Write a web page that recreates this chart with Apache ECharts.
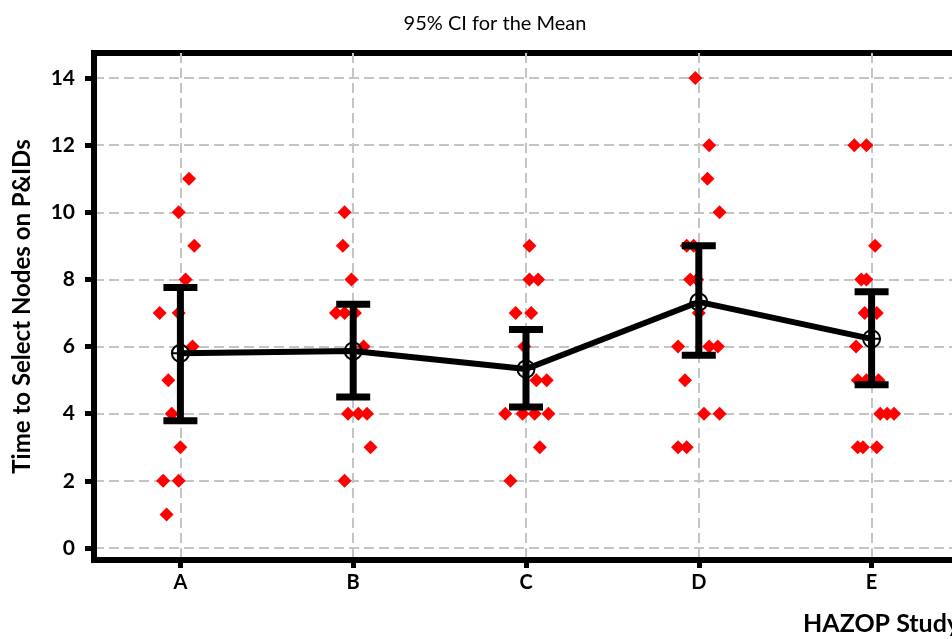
<!DOCTYPE html>
<html>
<head>
<meta charset="utf-8">
<script src="https://cdn.jsdelivr.net/npm/echarts@6/dist/echarts.min.js"></script>
<style>
  html, body { margin: 0; padding: 0; background: #fff; }
  #chart { width: 952px; height: 639px; }
</style>
</head>
<body>
<div id="chart"></div>
<script>
// 分组（HAZOP Study）
const categories = ['A', 'B', 'C', 'D', 'E']
const yTicks = [0, 2, 4, 6, 8, 10, 12, 14]

// 每组的原始观测值，以及从图中读出的水平抖动（单位：类别宽度）
const valuesA = [11, 10, 9, 8, 7, 7, 6, 5, 4, 3, 2, 2, 1]
const jitterA = [0.05, -0.01, 0.08, 0.03, -0.12, -0.01, 0.07, -0.07, -0.05, 0, -0.10, -0.01, -0.08]
const valuesB = [10, 9, 8, 7, 7, 7, 6, 4, 4, 4, 3, 2]
const jitterB = [-0.05, -0.06, -0.01, -0.10, -0.05, 0.01, 0.06, -0.03, 0.03, 0.08, 0.10, -0.05]
const valuesC = [9, 8, 8, 7, 7, 6, 5, 5, 4, 4, 4, 4, 3, 2]
const jitterC = [0.02, 0.02, 0.07, -0.06, 0.03, -0.01, 0.06, 0.12, -0.12, -0.02, 0.05, 0.13, 0.08, -0.09]
const valuesD = [14, 12, 11, 10, 9, 9, 8, 8, 7, 6, 6, 6, 5, 4, 4, 3, 3]
const jitterD = [-0.02, 0.06, 0.05, 0.12, -0.07, -0.03, -0.05, -0.01, 0, -0.12, 0.06, 0.11, -0.08, 0.03, 0.12, -0.12, -0.07]
const valuesE = [12, 12, 9, 8, 8, 7, 7, 6, 5, 5, 5, 4, 4, 4, 3, 3, 3]
const jitterE = [-0.10, -0.03, 0.02, -0.06, -0.03, -0.04, 0.03, -0.09, -0.08, -0.03, 0.04, 0.05, 0.09, 0.13, -0.08, -0.05, 0.03]

// 均值与 95% 置信区间
const means = [5.8, 5.87, 5.33, 7.33, 6.23]
const ciLow = [3.79, 4.5, 4.2, 5.74, 4.86]
const ciHigh = [7.76, 7.26, 6.51, 9.0, 7.63]

const groups = [
  [valuesA, jitterA], [valuesB, jitterB], [valuesC, jitterC], [valuesD, jitterD], [valuesE, jitterE]
]

const chartInstance = echarts.init(document.getElementById('chart'))

const pointData = []
groups.forEach((g, gi) => {
  g[0].forEach((v, i) => {
    pointData.push([gi + g[1][i], v])
  })
})
const meanData = means.map((m, i) => [i, m])
const ciData = means.map((m, i) => [i, ciLow[i], ciHigh[i]])

const FONT = 'Lato, "Open Sans", sans-serif'
const dashed = { color: '#c4c4c4', width: 2, type: [10, 5] }

const option = {
  animation: false,
  backgroundColor: '#fff',
  title: {
    text: '95% CI for the Mean',
    left: 490,
    top: 9,
    textAlign: 'center',
    textStyle: { fontFamily: FONT, fontSize: 20, fontWeight: 'normal', color: '#000' }
  },
  grid: {
    left: 94,
    right: -6,
    top: 53,
    bottom: 79,
    outerBoundsMode: 'none',
    containLabel: false,
    show: true,
    borderColor: '#000',
    borderWidth: 6
  },
  xAxis: {
    type: 'value',
    min: -0.5,
    max: 4.5,
    minInterval: 1,
    maxInterval: 1,
    axisLine: { show: true, onZero: false, lineStyle: { color: '#000', width: 6 } },
    axisTick: { show: true, customValues: [0, 1, 2, 3, 4], length: 8, lineStyle: { color: '#000', width: 5 } },
    axisLabel: {
      customValues: [0, 1, 2, 3, 4],
      formatter: (v) => categories[Math.round(v)],
      margin: 13,
      fontFamily: FONT,
      fontSize: 20,
      fontWeight: 'bold',
      color: '#000'
    },
    splitLine: { show: true, lineStyle: dashed }
  },
  yAxis: {
    type: 'value',
    min: -0.357,
    max: 14.745,
    minInterval: 2,
    maxInterval: 2,
    splitNumber: 7,
    name: 'Time to Select Nodes on P&IDs',
    nameLocation: 'middle',
    nameGap: 60,
    nameTextStyle: { fontFamily: FONT, fontSize: 24, fontWeight: 'bold', color: '#000' },
    axisLine: { show: true, onZero: false, lineStyle: { color: '#000', width: 6 } },
    axisTick: { show: true, customValues: yTicks, length: 9, lineStyle: { color: '#000', width: 5 } },
    axisLabel: {
      customValues: yTicks,
      margin: 19,
      fontFamily: FONT,
      fontSize: 21,
      fontWeight: 'bold',
      color: '#000'
    },
    splitLine: { show: true, lineStyle: dashed }
  },
  graphic: [
    {
      type: 'text',
      left: 803,
      top: 611,
      style: { text: 'HAZOP Study', font: 'bold 25px ' + FONT, fill: '#000' }
    }
  ],
  series: [
    {
      type: 'scatter',
      symbol: 'diamond',
      symbolSize: 14,
      itemStyle: { color: '#ff0000', opacity: 1 },
      data: pointData,
      z: 2
    },
    {
      type: 'custom',
      z: 3,
      renderItem: (params, api) => {
        const x = api.value(0)
        const lo = api.coord([x, api.value(1)])
        const hi = api.coord([x, api.value(2)])
        const half = 17
        const style = { stroke: '#000', lineWidth: 7 }
        return {
          type: 'group',
          children: [
            { type: 'line', shape: { x1: lo[0], y1: lo[1], x2: hi[0], y2: hi[1] }, style: style },
            { type: 'line', shape: { x1: hi[0] - half, y1: hi[1], x2: hi[0] + half, y2: hi[1] }, style: style },
            { type: 'line', shape: { x1: lo[0] - half, y1: lo[1], x2: lo[0] + half, y2: lo[1] }, style: style }
          ]
        }
      },
      data: ciData
    },
    {
      type: 'line',
      z: 4,
      data: meanData,
      lineStyle: { color: '#000', width: 6 },
      symbol: 'path://M0,10 A10,10 0 1,1 20,10 A10,10 0 1,1 0,10 Z M0,10 L20,10 M10,0 L10,20',
      symbolSize: 17,
      showAllSymbol: true,
      itemStyle: { color: 'rgba(0,0,0,0)', borderColor: '#000', borderWidth: 2 }
    }
  ]
}
chartInstance.setOption(option)
</script>
</body>
</html>
